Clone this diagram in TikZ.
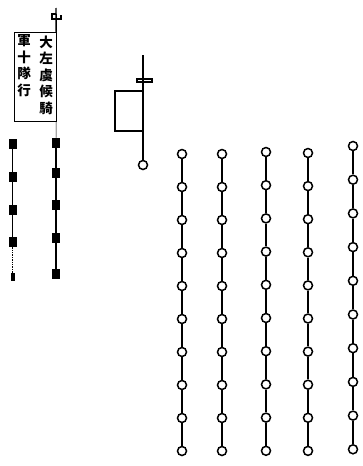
\documentclass[tikz,border=0pt]{standalone}
\usepackage{fontspec}
\newfontfamily\cjk{Noto Sans CJK TC}
\begin{document}
\begin{tikzpicture}[x=1pt,y=-1pt,
  ring/.style={circle,draw,line width=1.5pt,fill=white,inner sep=0pt,minimum size=9pt},
  blk/.style={rectangle,fill=black,inner sep=0pt,minimum width=8pt,minimum height=10pt},
  file/.style={line width=1.4pt},
  tagtext/.style={font=\cjk\bfseries\fontsize{13.5}{16.5}\selectfont,align=center,inner sep=0pt}]
  \useasboundingbox (0,0) rectangle (363,466);
  % left: standard and label
  \coordinate (ltop) at (56,8);
  \draw[file] (56,14) -- (52,14) -- (52,19) -- (61,19) -- (61,15);
  \node[draw,thin,minimum width=42pt,minimum height=89pt,inner sep=0pt] (tag) at (35,76.5) {};
  \draw[file] (ltop) -- (tag.north east);
  \node[tagtext] (tagR) at (46,75) {大\\左\\虞\\候\\騎};
  \node[tagtext] (tagL) at (24,65.5) {軍\\十\\隊\\行};
  % two files of squares
  \foreach \n/\y in {1/143,2/173,3/205,4/238,5/274}
    \node[blk] (r\n) at (56,\y) {};
  \foreach \n/\y in {1/144,2/177,3/210,4/242}
    \node[blk] (l\n) at (12.5,\y) {};
  \node[blk,minimum width=4pt,minimum height=8pt] (l5) at (12.5,277) {};
  \draw[file,thin] (tag.south east) -- (r1);
  \foreach \a/\b in {1/2,2/3,3/4,4/5}
    \draw[file] (r\a) -- (r\b);
  \foreach \a/\b in {1/2,2/3,3/4}
    \draw[file] (l\a) -- (l\b);
  \draw[file,densely dotted] (l4) -- (l5);
  % middle: banner
  \coordinate (mtop) at (143,55);
  \node[draw,file,minimum width=28pt,minimum height=40pt,inner sep=0pt] (banner) at (129,111) {};
  \draw[file] (137,79) rectangle (152,82);
  \node[ring] (hq) at (143,165) {};
  \draw[file] (mtop) -- (hq);
  % right: five files of rings
  \foreach \col/\cx/\top/\gap in {1/182/154/33,2/222/154/33,3/266/152/33.2,4/308/153/33.1,5/353/146/33.7}{
    \foreach \row in {0,...,9}
      \node[ring] (c\col-\row) at (\cx,\top+\row*\gap) {};
    \foreach \row [remember=\row as \prev (initially 0)] in {1,...,9}
      \draw[file] (c\col-\prev) -- (c\col-\row);
  }
\end{tikzpicture}
\end{document}
